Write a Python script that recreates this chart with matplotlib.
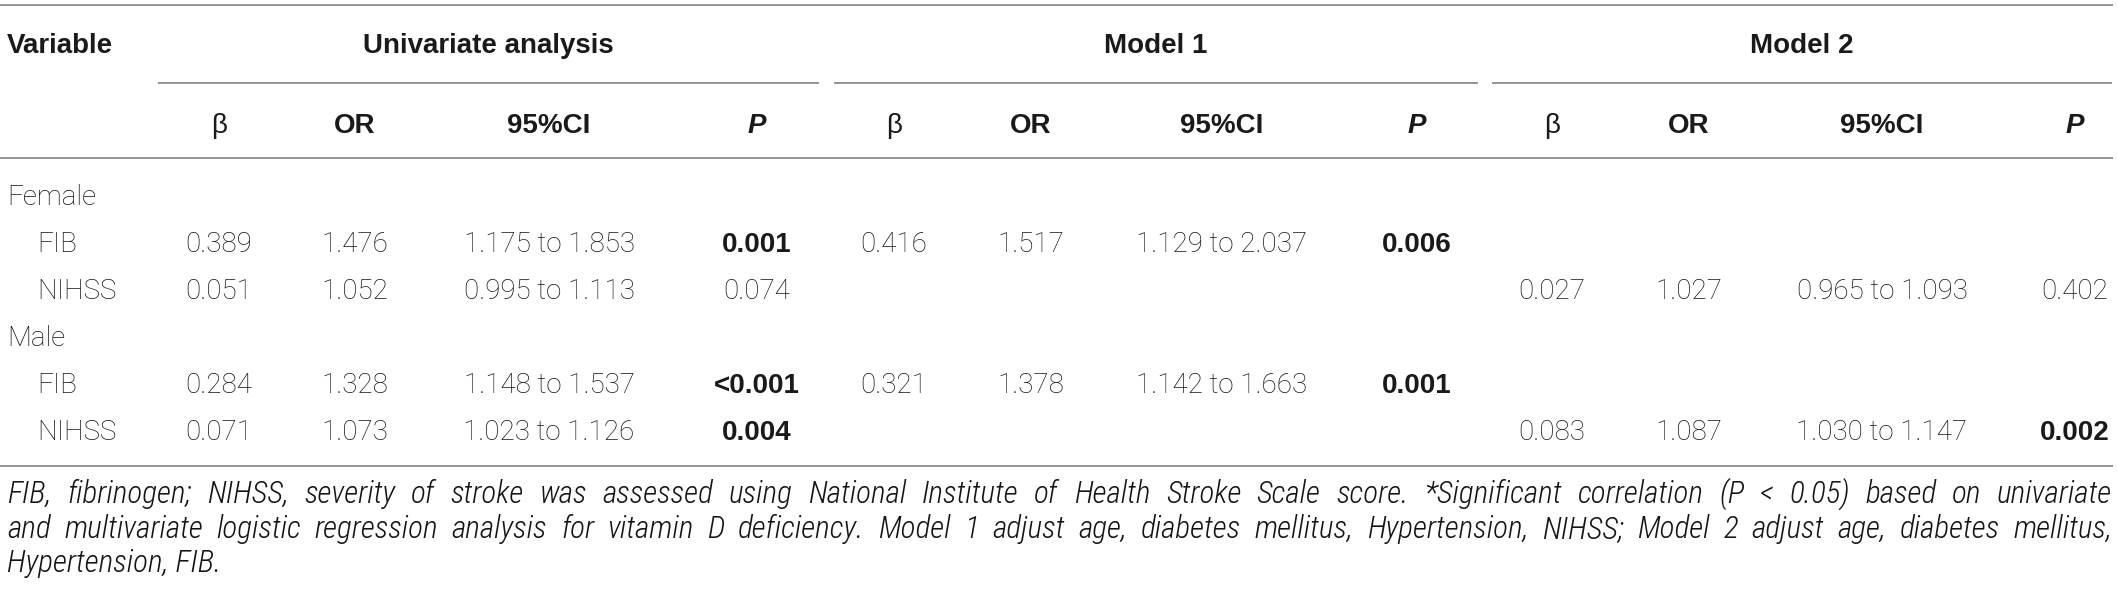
import numpy as np
import matplotlib.pyplot as plt
from matplotlib import font_manager

# row labels
groups = ['Female', 'Male']
variables = ['FIB', 'NIHSS']

# univariate analysis, rows: Female FIB, Female NIHSS, Male FIB, Male NIHSS
uni_beta = ['0.389', '0.051', '0.284', '0.071']
uni_or = ['1.476', '1.052', '1.328', '1.073']
uni_ci = ['1.175 to 1.853', '0.995 to 1.113', '1.148 to 1.537', '1.023 to 1.126']
uni_p = ['0.001', '0.074', '<0.001', '0.004']

# model 1 (FIB only)
m1_beta = ['0.416', '', '0.321', '']
m1_or = ['1.517', '', '1.378', '']
m1_ci = ['1.129 to 2.037', '', '1.142 to 1.663', '']
m1_p = ['0.006', '', '0.001', '']

# model 2 (NIHSS only)
m2_beta = ['', '0.027', '', '0.083']
m2_or = ['', '1.027', '', '1.087']
m2_ci = ['', '0.965 to 1.093', '', '1.030 to 1.147']
m2_p = ['', '0.402', '', '0.002']

group_titles = ['Univariate analysis', 'Model 1', 'Model 2']
sub_headers = ['β', 'OR', '95%CI', 'P']

footnote = [
    'FIB, fibrinogen; NIHSS, severity of stroke was assessed using National Institute of Health Stroke Scale score. '
    '*Significant correlation (P < 0.05) based on univariate',
    'and multivariate logistic regression analysis for vitamin D deficiency. Model 1 adjust age, diabetes mellitus, '
    'Hypertension, NIHSS; Model 2 adjust age, diabetes mellitus,',
    'Hypertension, FIB.',
]

W, H = 2118, 589
TXT = '#1a1a1a'
LINE = '#8c8c8c'

installed = {f.name for f in font_manager.fontManager.ttflist}
narrow = 'Roboto'
for name in ('Liberation Sans Narrow', 'Roboto Condensed'):
    if name in installed:
        narrow = name
        break

BODY = dict(family=['Roboto', 'DejaVu Sans'], weight='light', color='#141414')
HEAD = dict(family=['Liberation Sans', 'DejaVu Sans'], weight='bold', color=TXT)
FOOT = dict(family=[narrow, 'DejaVu Sans'], weight='light', style='italic', color='#141414')

fig = plt.figure(figsize=(W / 100, H / 100), dpi=100)
ax = fig.add_axes([0, 0, 1, 1])
ax.set_xlim(0, W)
ax.set_ylim(H, 0)
ax.axis('off')

# layout in pixels
col_x = [219, 355, 549, 757, 894, 1031, 1222, 1417, 1552, 1689, 1882, 2075]
spans = [(158, 819), (834, 1478), (1492, 2112)]
left, right = 7, 2112

# rules
for y in (5, 158, 466):
    ax.hlines(y, 0, right + 1, color=LINE, lw=1.3)
for a, b in spans:
    ax.hlines(83, a, b, color=LINE, lw=1.3)

# header
ax.text(left, 53, 'Variable', fontsize=20, va='baseline', **HEAD)
for (a, b), title in zip(spans, group_titles):
    ax.text((a + b) / 2, 53, title, fontsize=20, ha='center', va='baseline', **HEAD)
for i, x in enumerate(col_x):
    h = sub_headers[i % 4]
    if h == 'β':
        ax.text(x, 133, h, fontsize=20, ha='center', va='baseline',
                family=['Liberation Sans'], color=TXT)
    elif h == 'P':
        ax.text(x, 133, h, fontsize=20, ha='center', va='baseline', style='italic', **HEAD)
    else:
        ax.text(x, 133, h, fontsize=20, ha='center', va='baseline', **HEAD)

# body
group_y = [205, 346]
row_y = [252, 299, 393, 440]
for g, y in zip(groups, group_y):
    ax.text(left, y, g, fontsize=20, va='baseline', **BODY)

columns = [uni_beta, uni_or, uni_ci, uni_p,
           m1_beta, m1_or, m1_ci, m1_p,
           m2_beta, m2_or, m2_ci, m2_p]

for r, y in enumerate(row_y):
    ax.text(37, y, variables[r % 2], fontsize=20, va='baseline', **BODY)
    for c, x in enumerate(columns):
        s = x[r]
        if not s:
            continue
        # significant P values in bold
        if c % 4 == 3 and float(s.lstrip('<')) < 0.05:
            ax.text(col_x[c], y, s, fontsize=20, ha='center', va='baseline', **HEAD)
        else:
            ax.text(col_x[c], y, s, fontsize=20, ha='center', va='baseline', **BODY)

# footnote, justified
fig.canvas.draw()
renderer = fig.canvas.get_renderer()


def text_width(s, size):
    t = ax.text(0, 0, s, fontsize=size, **FOOT)
    w = t.get_window_extent(renderer).width
    t.remove()
    return w


fs = min(22.5, 20 * (right - left) / text_width(footnote[0], 20) * 0.985)
foot_y = [503, 538, 572]
for k, (line, y) in enumerate(zip(footnote, foot_y)):
    if k == len(footnote) - 1:
        ax.text(left, y, line, fontsize=fs, va='baseline', **FOOT)
        continue
    words = line.split(' ')
    widths = [text_width(w, fs) for w in words]
    gap = (right - left - sum(widths)) / (len(words) - 1)
    x = left
    for w, wd in zip(words, widths):
        ax.text(x, y, w, fontsize=fs, va='baseline', **FOOT)
        x += wd + gap

fig.savefig('out.png', dpi=100)
